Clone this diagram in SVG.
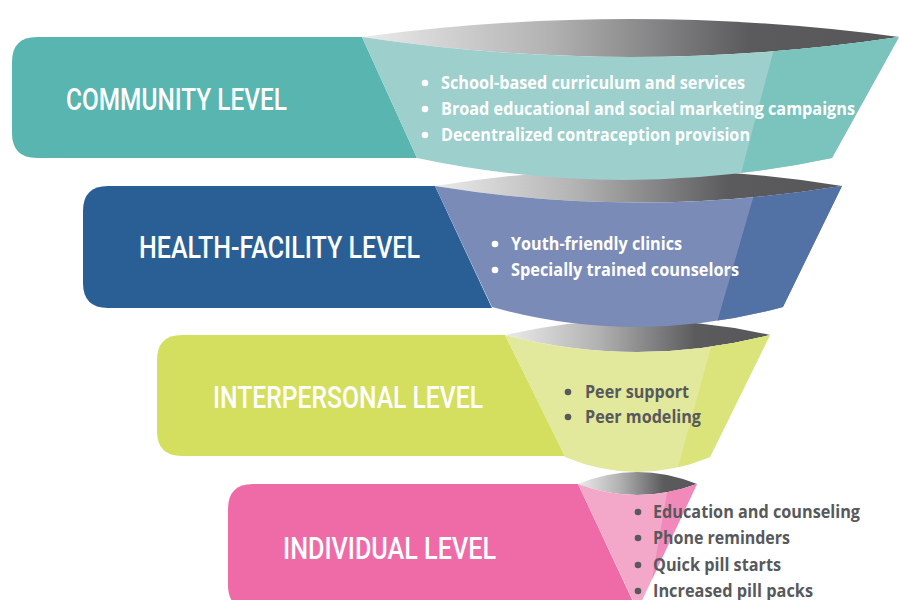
<svg xmlns="http://www.w3.org/2000/svg" width="899" height="600" viewBox="0 0 899 600">
<style>
.lbl{font-family:Roboto,"DejaVu Sans Condensed","Liberation Sans",sans-serif;font-weight:500;font-size:32px;fill:#ffffff}
.bt{font-family:"Open Sans","Noto Sans","Liberation Sans",sans-serif;font-weight:700;font-size:18.5px}
.w{fill:#ffffff}
.d{fill:#58595b}
</style>
<defs>
<linearGradient id="lens" x1="0" y1="0" x2="1" y2="0">
<stop offset="0" stop-color="#ebebeb"/>
<stop offset="0.35" stop-color="#b3b2b3"/>
<stop offset="0.72" stop-color="#5b5b5d"/>
<stop offset="1" stop-color="#58585a"/>
</linearGradient>
<clipPath id="c1"><path d="M362,37 Q630,77 899,37 L832,158 Q625,202 417,158 Z"/></clipPath>
<clipPath id="c2"><path d="M435,186 Q638,219 842,186 L783,307 Q637,347 492,307 Z"/></clipPath>
<clipPath id="c3"><path d="M505,335 Q637,369 770,335 L710,457 Q637,487 565,457 Z"/></clipPath>
<clipPath id="c4"><path d="M578,484 Q637,506 697,484 L637.5,610 Z"/></clipPath>
</defs>

<g id="individual">
<path d="M253,484 H578 L637,610 H253 Q228,610 228,585 V509 Q228,484 253,484 Z" fill="#ef6ba7"/>
<path d="M578,484 Q637,460 697,484 Q637,506 578,484 Z" fill="url(#lens)"/>
<path d="M578,484 Q637,506 697,484 L637.5,610 Z" fill="#f3a7c9"/>
<path d="M671,470 L720,470 L720,620 L645,620 Z" fill="#f18aba" clip-path="url(#c4)"/>
<text class="lbl" x="283" y="559" textLength="213" lengthAdjust="spacingAndGlyphs">INDIVIDUAL LEVEL</text>
<circle class="d" cx="638" cy="512" r="3.3"/>
<circle class="d" cx="638" cy="538" r="3.3"/>
<circle class="d" cx="638" cy="565" r="3.3"/>
<circle class="d" cx="638" cy="591" r="3.3"/>
<text class="bt d" x="653" y="518" textLength="207" lengthAdjust="spacingAndGlyphs">Education and counseling</text>
<text class="bt d" x="653" y="544" textLength="137" lengthAdjust="spacingAndGlyphs">Phone reminders</text>
<text class="bt d" x="653" y="571" textLength="128" lengthAdjust="spacingAndGlyphs">Quick pill starts</text>
<text class="bt d" x="653" y="597" textLength="160" lengthAdjust="spacingAndGlyphs">Increased pill packs</text>
</g>

<g id="interpersonal">
<path d="M182,335 H505 L565,456 H182 Q157,456 157,431 V360 Q157,335 182,335 Z" fill="#d5df5f"/>
<path d="M505,335 Q637,305 770,335 Q637,369 505,335 Z" fill="url(#lens)"/>
<path d="M505,335 Q637,369 770,335 L710,457 Q637,487 565,457 Z" fill="#e2e89c"/>
<path d="M724,300 L800,300 L800,500 L669,500 Z" fill="#dbe47b" clip-path="url(#c3)"/>
<text class="lbl" x="213" y="408" textLength="270" lengthAdjust="spacingAndGlyphs">INTERPERSONAL LEVEL</text>
<circle class="d" cx="568" cy="392" r="3.3"/>
<circle class="d" cx="568" cy="417" r="3.3"/>
<text class="bt d" x="585" y="398" textLength="104" lengthAdjust="spacingAndGlyphs">Peer support</text>
<text class="bt d" x="585" y="423" textLength="116" lengthAdjust="spacingAndGlyphs">Peer modeling</text>
</g>

<g id="health-facility">
<path d="M108,186 H435 L492,308 H108 Q83,308 83,283 V211 Q83,186 108,186 Z" fill="#2a5f96"/>
<path d="M435,186 Q638,153 842,186 Q638,219 435,186 Z" fill="url(#lens)"/>
<path d="M435,186 Q638,219 842,186 L783,307 Q637,347 492,307 Z" fill="#7a8bb8"/>
<path d="M767,150 L860,150 L860,350 L709,350 Z" fill="#5271a5" clip-path="url(#c2)"/>
<text class="lbl" x="139" y="258" textLength="281" lengthAdjust="spacingAndGlyphs">HEALTH-FACILITY LEVEL</text>
<circle class="w" cx="495" cy="244" r="3.3"/>
<circle class="w" cx="495" cy="270" r="3.3"/>
<text class="bt w" x="511" y="250" textLength="171" lengthAdjust="spacingAndGlyphs">Youth-friendly clinics</text>
<text class="bt w" x="511" y="276" textLength="228" lengthAdjust="spacingAndGlyphs">Specially trained counselors</text>
</g>

<g id="community">
<path d="M37,37 H362 L417,158 H37 Q12,158 12,133 V62 Q12,37 37,37 Z" fill="#58b5b0"/>
<path d="M362,37 Q630,1 899,37 Q630,77 362,37 Z" fill="url(#lens)"/>
<path d="M362,37 Q630,77 899,37 L832,158 Q625,202 417,158 Z" fill="#9dcfcc"/>
<path d="M787,0 L905,0 L905,200 L734,200 Z" fill="#7bc3bd" clip-path="url(#c1)"/>
<text class="lbl" x="66" y="110" textLength="221" lengthAdjust="spacingAndGlyphs">COMMUNITY LEVEL</text>
<circle class="w" cx="425" cy="83" r="3.3"/>
<circle class="w" cx="425" cy="109" r="3.3"/>
<circle class="w" cx="425" cy="135" r="3.3"/>
<text class="bt w" x="441" y="89" textLength="304" lengthAdjust="spacingAndGlyphs">School-based curriculum and services</text>
<text class="bt w" x="441" y="115" textLength="414" lengthAdjust="spacingAndGlyphs">Broad educational and social marketing campaigns</text>
<text class="bt w" x="441" y="141" textLength="309" lengthAdjust="spacingAndGlyphs">Decentralized contraception provision</text>
</g>

<g id="connectors"></g>
</svg>
